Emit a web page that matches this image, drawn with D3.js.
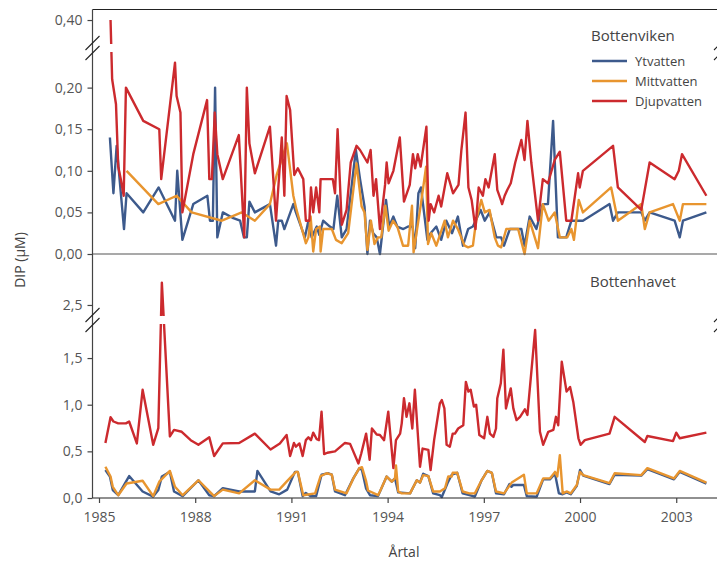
<!DOCTYPE html>
<html>
<head>
<meta charset="utf-8">
<script src="https://cdnjs.cloudflare.com/ajax/libs/d3/7.8.5/d3.min.js"></script>
<style>
  html, body { margin: 0; padding: 0; background: #fff; }
  svg { display: block; font-family: "Open Sans", "DejaVu Sans", sans-serif; }
</style>
</head>
<body>
<svg id="chart" width="717" height="562"></svg>
<script>
// Bottenviken (upper panel) - [year, DIP µM]
const bvYt = [[1985.34,0.14],[1985.45,0.073],[1985.55,0.13],[1985.78,0.03],[1985.86,0.073],[1986.38,0.05],[1986.86,0.08],[1987.37,0.04],[1987.44,0.10],[1987.60,0.017],[1987.94,0.06],[1988.38,0.07],[1988.46,0.04],[1988.55,0.04],[1988.62,0.20],[1988.69,0.02],[1988.86,0.05],[1989.19,0.043],[1989.40,0.04],[1989.52,0.02],[1989.61,0.02],[1989.69,0.063],[1989.86,0.05],[1990.33,0.06],[1990.52,0.01],[1990.59,0.04],[1990.70,0.04],[1990.78,0.03],[1991.06,0.06],[1991.14,0.05],[1991.42,0.02],[1991.53,0.04],[1991.63,0.02],[1991.79,0.033],[1991.87,0.023],[1991.99,0.04],[1992.20,0.033],[1992.31,0.03],[1992.43,0.07],[1992.57,0.02],[1992.72,0.03],[1993.01,0.125],[1993.14,0.09],[1993.28,0.057],[1993.37,0.0],[1993.45,0.04],[1993.55,0.025],[1993.66,0.02],[1993.76,0.0],[1993.95,0.065],[1994.05,0.033],[1994.18,0.045],[1994.30,0.033],[1994.49,0.03],[1994.64,0.033],[1994.78,0.033],[1994.86,0.007],[1994.96,0.073],[1995.04,0.08],[1995.24,0.017],[1995.34,0.025],[1995.52,0.033],[1995.67,0.017],[1995.83,0.04],[1996.01,0.025],[1996.19,0.045],[1996.35,0.01],[1996.51,0.03],[1996.66,0.033],[1996.90,0.053],[1997.03,0.04],[1997.18,0.05],[1997.39,0.02],[1997.54,0.02],[1997.63,0.01],[1997.81,0.03],[1997.96,0.03],[1998.17,0.03],[1998.27,0.01],[1998.43,0.045],[1998.64,0.03],[1998.84,0.06],[1999.00,0.06],[1999.16,0.16],[1999.31,0.02],[1999.57,0.02],[1999.73,0.04],[1999.94,0.04],[2000.09,0.04],[2000.92,0.06],[2001.03,0.04],[2001.18,0.05],[2001.91,0.05],[2002.02,0.04],[2002.17,0.05],[2002.95,0.04],[2003.11,0.02],[2003.21,0.04],[2003.94,0.05]];
const bvMitt = [[1985.86,0.10],[1986.85,0.06],[1987.42,0.07],[1987.89,0.05],[1988.83,0.04],[1989.45,0.05],[1989.86,0.04],[1990.33,0.06],[1990.54,0.095],[1990.86,0.133],[1991.06,0.07],[1991.16,0.053],[1991.45,0.013],[1991.53,0.02],[1991.60,0.045],[1991.68,0.003],[1991.77,0.03],[1991.89,0.033],[1991.91,0.003],[1991.99,0.03],[1992.26,0.03],[1992.39,0.017],[1992.57,0.013],[1992.77,0.025],[1993.03,0.109],[1993.19,0.057],[1993.28,0.05],[1993.37,0.005],[1993.48,0.04],[1993.59,0.012],[1993.70,0.02],[1993.80,0.02],[1993.93,0.058],[1994.03,0.028],[1994.17,0.04],[1994.31,0.032],[1994.48,0.01],[1994.64,0.01],[1994.76,0.058],[1994.81,0.002],[1995.03,0.058],[1995.20,0.105],[1995.26,0.012],[1995.36,0.025],[1995.52,0.01],[1995.78,0.04],[1995.88,0.02],[1996.04,0.04],[1996.19,0.03],[1996.40,0.01],[1996.51,0.008],[1996.66,0.01],[1996.76,0.04],[1996.92,0.065],[1997.03,0.05],[1997.18,0.053],[1997.34,0.02],[1997.44,0.01],[1997.54,0.008],[1997.70,0.03],[1997.86,0.03],[1998.07,0.03],[1998.27,0.0],[1998.43,0.04],[1998.69,0.007],[1998.84,0.06],[1999.02,0.04],[1999.21,0.05],[1999.37,0.02],[1999.60,0.02],[1999.73,0.03],[1999.81,0.017],[1999.96,0.065],[2000.09,0.05],[2000.97,0.08],[2001.18,0.04],[2001.91,0.06],[2002.02,0.03],[2002.17,0.05],[2002.90,0.06],[2003.11,0.04],[2003.21,0.06],[2003.94,0.06]];
const bvDjup = [[1985.36,0.40],[1985.41,0.21],[1985.53,0.18],[1985.60,0.105],[1985.68,0.09],[1985.77,0.07],[1985.84,0.20],[1986.38,0.16],[1986.88,0.15],[1986.94,0.09],[1987.37,0.23],[1987.42,0.19],[1987.54,0.17],[1987.60,0.05],[1987.94,0.12],[1988.37,0.185],[1988.44,0.09],[1988.52,0.09],[1988.61,0.17],[1988.69,0.12],[1988.86,0.09],[1989.36,0.143],[1989.53,0.02],[1989.61,0.20],[1989.69,0.133],[1989.86,0.097],[1990.33,0.153],[1990.52,0.04],[1990.70,0.14],[1990.78,0.07],[1990.85,0.19],[1990.96,0.173],[1991.09,0.095],[1991.20,0.103],[1991.37,0.09],[1991.45,0.04],[1991.56,0.04],[1991.61,0.08],[1991.68,0.05],[1991.77,0.08],[1991.87,0.05],[1991.91,0.09],[1992.29,0.09],[1992.36,0.073],[1992.44,0.15],[1992.57,0.035],[1992.72,0.053],[1992.85,0.11],[1993.03,0.13],[1993.14,0.125],[1993.37,0.11],[1993.47,0.125],[1993.56,0.07],[1993.64,0.09],[1993.76,0.03],[1993.92,0.083],[1993.97,0.11],[1994.03,0.085],[1994.18,0.10],[1994.38,0.14],[1994.51,0.063],[1994.69,0.083],[1994.79,0.12],[1994.86,0.103],[1994.94,0.12],[1995.03,0.105],[1995.21,0.153],[1995.28,0.04],[1995.34,0.06],[1995.45,0.05],[1995.59,0.07],[1995.67,0.057],[1995.86,0.097],[1996.04,0.073],[1996.21,0.083],[1996.30,0.125],[1996.43,0.17],[1996.52,0.08],[1996.62,0.065],[1996.74,0.03],[1996.84,0.08],[1996.97,0.07],[1997.05,0.09],[1997.15,0.08],[1997.34,0.12],[1997.42,0.077],[1997.53,0.065],[1997.57,0.06],[1997.65,0.07],[1997.73,0.077],[1997.84,0.085],[1997.98,0.11],[1998.17,0.137],[1998.27,0.113],[1998.36,0.16],[1998.48,0.11],[1998.69,0.04],[1998.84,0.09],[1999.00,0.085],[1999.21,0.113],[1999.37,0.123],[1999.57,0.04],[1999.73,0.04],[1999.94,0.097],[1999.99,0.08],[2000.09,0.10],[2001.03,0.13],[2001.18,0.08],[2001.91,0.053],[2002.17,0.11],[2002.95,0.09],[2003.08,0.10],[2003.18,0.12],[2003.94,0.07]];

// Bottenhavet (lower panel)
const bhYt = [[1985.20,0.30],[1985.34,0.23],[1985.43,0.085],[1985.60,0.03],[1985.94,0.235],[1986.36,0.07],[1986.69,0.015],[1986.85,0.085],[1986.96,0.23],[1987.21,0.28],[1987.34,0.07],[1987.61,0.02],[1988.10,0.19],[1988.44,0.03],[1988.59,0.02],[1988.86,0.105],[1989.37,0.07],[1989.86,0.07],[1989.94,0.29],[1990.35,0.07],[1990.62,0.04],[1990.87,0.09],[1991.11,0.28],[1991.20,0.28],[1991.35,0.02],[1991.45,0.055],[1991.60,0.02],[1991.77,0.02],[1991.94,0.25],[1992.15,0.265],[1992.26,0.25],[1992.36,0.07],[1992.67,0.03],[1992.93,0.21],[1993.12,0.32],[1993.20,0.30],[1993.33,0.10],[1993.45,0.03],[1993.70,0.02],[1993.97,0.23],[1994.13,0.175],[1994.23,0.21],[1994.33,0.06],[1994.70,0.05],[1994.91,0.19],[1995.01,0.165],[1995.11,0.26],[1995.27,0.235],[1995.42,0.05],[1995.63,0.03],[1995.69,0.01],[1995.87,0.16],[1996.00,0.25],[1996.17,0.27],[1996.34,0.05],[1996.55,0.03],[1996.72,0.015],[1996.93,0.19],[1997.11,0.29],[1997.25,0.27],[1997.38,0.05],[1997.63,0.04],[1997.80,0.15],[1997.86,0.12],[1997.92,0.14],[1998.25,0.14],[1998.34,0.02],[1998.65,0.015],[1998.85,0.20],[1999.06,0.20],[1999.22,0.26],[1999.34,0.05],[1999.46,0.04],[1999.58,0.06],[1999.71,0.04],[1999.90,0.13],[2000.00,0.30],[2000.10,0.24],[2000.92,0.15],[2001.08,0.25],[2001.91,0.24],[2002.10,0.31],[2002.93,0.20],[2003.11,0.28],[2003.94,0.155]];
const bhMitt = [[1985.20,0.335],[1985.36,0.23],[1985.43,0.12],[1985.60,0.03],[1985.86,0.155],[1986.36,0.185],[1986.69,0.02],[1986.88,0.175],[1987.21,0.29],[1987.37,0.12],[1987.61,0.03],[1988.10,0.19],[1988.59,0.02],[1988.86,0.09],[1989.37,0.05],[1989.86,0.19],[1990.35,0.09],[1990.62,0.09],[1990.85,0.175],[1991.14,0.28],[1991.20,0.28],[1991.37,0.03],[1991.74,0.05],[1991.79,0.105],[1991.91,0.235],[1992.10,0.265],[1992.26,0.25],[1992.36,0.09],[1992.72,0.05],[1992.93,0.21],[1993.12,0.32],[1993.20,0.33],[1993.33,0.18],[1993.39,0.08],[1993.70,0.03],[1993.76,0.07],[1993.97,0.23],[1994.13,0.175],[1994.23,0.21],[1994.26,0.35],[1994.33,0.07],[1994.44,0.05],[1994.70,0.05],[1994.91,0.19],[1995.01,0.165],[1995.11,0.245],[1995.27,0.235],[1995.42,0.07],[1995.63,0.07],[1995.79,0.105],[1995.89,0.23],[1996.00,0.23],[1996.03,0.27],[1996.17,0.27],[1996.34,0.07],[1996.55,0.05],[1996.72,0.05],[1996.93,0.19],[1997.11,0.29],[1997.25,0.27],[1997.38,0.07],[1997.63,0.05],[1997.87,0.165],[1998.25,0.25],[1998.34,0.05],[1998.65,0.05],[1998.85,0.21],[1999.06,0.21],[1999.22,0.28],[1999.29,0.23],[1999.37,0.46],[1999.46,0.05],[1999.58,0.07],[1999.71,0.05],[1999.90,0.14],[2000.00,0.28],[2000.10,0.245],[2000.92,0.16],[2001.08,0.265],[2001.91,0.245],[2002.10,0.32],[2002.93,0.21],[2003.11,0.29],[2003.94,0.165]];
const bhDjup = [[1985.20,0.59],[1985.36,0.865],[1985.45,0.82],[1985.60,0.80],[1985.84,0.80],[1985.94,0.82],[1986.18,0.585],[1986.36,1.16],[1986.69,0.57],[1986.85,0.75],[1986.96,2.74],[1987.21,0.66],[1987.34,0.73],[1987.58,0.71],[1987.86,0.62],[1988.10,0.57],[1988.44,0.65],[1988.59,0.45],[1988.86,0.585],[1989.37,0.59],[1989.86,0.69],[1990.35,0.52],[1990.64,0.585],[1990.85,0.675],[1990.96,0.45],[1991.08,0.59],[1991.14,0.55],[1991.25,0.585],[1991.35,0.45],[1991.45,0.62],[1991.53,0.65],[1991.61,0.62],[1991.68,0.70],[1991.79,0.63],[1991.86,0.62],[1991.94,0.925],[1992.02,0.47],[1992.12,0.485],[1992.36,0.50],[1992.67,0.59],[1992.83,0.58],[1993.09,0.37],[1993.18,0.48],[1993.33,0.69],[1993.44,0.41],[1993.51,0.745],[1993.66,0.68],[1993.76,0.675],[1993.89,0.62],[1994.02,0.925],[1994.18,0.32],[1994.26,0.62],[1994.39,0.69],[1994.44,0.80],[1994.51,1.07],[1994.59,0.87],[1994.68,1.015],[1994.77,0.745],[1994.85,1.16],[1995.01,0.335],[1995.09,0.53],[1995.27,0.515],[1995.34,0.30],[1995.45,0.62],[1995.63,1.015],[1995.69,1.05],[1995.77,0.96],[1995.84,0.57],[1995.94,0.55],[1996.03,0.69],[1996.10,0.69],[1996.20,0.745],[1996.36,0.78],[1996.44,1.245],[1996.52,1.14],[1996.59,1.16],[1996.69,0.98],[1996.76,1.00],[1996.86,0.675],[1997.01,0.64],[1997.11,0.87],[1997.19,0.69],[1997.30,0.655],[1997.38,0.745],[1997.42,1.07],[1997.53,1.23],[1997.61,1.59],[1997.69,0.96],[1997.84,1.175],[1997.92,0.96],[1998.02,0.835],[1998.13,0.87],[1998.28,0.95],[1998.36,0.89],[1998.60,1.80],[1998.75,0.71],[1998.85,0.57],[1999.01,0.71],[1999.17,0.73],[1999.25,0.87],[1999.32,0.78],[1999.43,1.46],[1999.58,1.14],[1999.69,1.19],[1999.79,1.03],[1999.95,0.64],[2000.02,0.57],[2000.15,0.62],[2000.92,0.69],[2001.08,0.87],[2002.02,0.60],[2002.10,0.665],[2002.90,0.61],[2003.00,0.70],[2003.11,0.64],[2003.94,0.70]];

const xTicks = [1985, 1988, 1991, 1994, 1997, 2000, 2003];
const topTicks = [0, 0.05, 0.10, 0.15, 0.20, 0.40];
const bottomTicks = [0, 0.5, 1.0, 1.5, 2.5];
const seriesNames = ['Ytvatten', 'Mittvatten', 'Djupvatten'];
const seriesColors = ['#3d5a8c', '#e8952f', '#cc2a2e'];

(function(){
  const svg = d3.select('#chart');
  const W = 717, left = 92.5;

  const x = d3.scaleLinear().domain([1985, 2004]).range([99, 708.3]);

  // broken y-scales (piecewise: lower part, compressed break, upper part)
  const yTop = d3.scaleLinear().domain([0, 0.235, 0.385, 0.42]).range([254, 58.5, 32.5, 3.4]);
  const yBot = d3.scaleLinear().domain([0, 1.85, 2.4, 2.8]).range([498, 325.4, 314.3, 277]);
  const topGap = 48, botGap = 320;

  const fmt2 = v => d3.format('.2f')(v).replace('.', ',');
  const fmt1 = v => d3.format('.1f')(v).replace('.', ',');

  const lineTop = d3.line().x(d => x(d[0])).y(d => yTop(d[1]));
  const lineBot = d3.line().x(d => x(d[0])).y(d => yBot(d[1]));

  const plot = svg.append('g');
  [bvYt, bvMitt, bvDjup].forEach((s, i) => {
    plot.append('path').datum(s).attr('d', lineTop)
      .attr('fill', 'none').attr('stroke', seriesColors[i]).attr('stroke-width', 2.4)
      .attr('stroke-linejoin', 'round');
  });
  [bhYt, bhMitt, bhDjup].forEach((s, i) => {
    plot.append('path').datum(s).attr('d', lineBot)
      .attr('fill', 'none').attr('stroke', seriesColors[i]).attr('stroke-width', 2.4)
      .attr('stroke-linejoin', 'round');
  });

  // white gaps where the axes are broken
  [topGap, botGap].forEach(g => {
    svg.append('rect').attr('x', left + 1).attr('y', g - 4).attr('width', W).attr('height', 8).attr('fill', '#fff');
  });

  // frame lines
  svg.append('line').attr('x1', left).attr('x2', W).attr('y1', 9.5).attr('y2', 9.5).attr('stroke', '#222').attr('stroke-width', 1.2);
  svg.append('line').attr('x1', left).attr('x2', W).attr('y1', yTop(0)).attr('y2', yTop(0)).attr('stroke', '#555').attr('stroke-width', 1.2);

  // y axes
  const axTop = svg.append('g').attr('transform', `translate(${left},0)`)
    .call(d3.axisLeft(yTop).tickValues(topTicks).tickFormat(fmt2).tickSize(5).tickPadding(5).tickSizeOuter(0));
  const axBot = svg.append('g').attr('transform', `translate(${left},0)`)
    .call(d3.axisLeft(yBot).tickValues(bottomTicks).tickFormat(fmt1).tickSize(5).tickPadding(5).tickSizeOuter(0));
  [axTop, axBot].forEach(a => a.select('.domain').remove());
  svg.append('line').attr('x1', left).attr('x2', left).attr('y1', 9.5).attr('y2', yBot(0)).attr('stroke', '#444').attr('stroke-width', 1.2);

  // x axis
  const axX = svg.append('g').attr('transform', `translate(0,${yBot(0)})`)
    .call(d3.axisBottom(x).tickValues(xTicks).tickFormat(d3.format('d')).tickSize(5).tickPadding(9).tickSizeOuter(0));
  axX.select('.domain').attr('d', `M${left},0H${W}`).attr('stroke', '#222').attr('stroke-width', 1.2);

  svg.selectAll('.tick line').attr('stroke', '#444').attr('stroke-width', 1.2);
  svg.selectAll('.tick text').attr('fill', '#555').style('font-size', '14px').style('font-family', '"Open Sans", sans-serif');

  // break marks on left and right side
  [topGap, botGap].forEach(g => {
    [left, W + 4].forEach(px => {
      [-5, 5].forEach(o => {
        svg.append('line').attr('x1', px - 7).attr('y1', g + o + 7).attr('x2', px + 7).attr('y2', g + o - 7)
          .attr('stroke', '#222').attr('stroke-width', 1.1);
      });
    });
  });

  // titles
  svg.append('text').attr('transform', 'translate(25,260) rotate(-90)').attr('text-anchor', 'middle')
    .style('font-size', '14px').attr('fill', '#444').text('DIP (µM)');
  svg.append('text').attr('x', 404).attr('y', 557).attr('text-anchor', 'middle')
    .style('font-size', '14px').attr('fill', '#444').text('Årtal');

  // legend / panel labels
  svg.append('text').attr('x', 591).attr('y', 41).style('font-size', '15px').attr('fill', '#444').text('Bottenviken');
  svg.append('text').attr('x', 590).attr('y', 287).style('font-size', '15px').attr('fill', '#444').text('Bottenhavet');
  const lg = svg.append('g');
  seriesNames.forEach((n, i) => {
    const yy = 61 + i * 20;
    lg.append('line').attr('x1', 592).attr('x2', 627).attr('y1', yy).attr('y2', yy)
      .attr('stroke', seriesColors[i]).attr('stroke-width', 2.4);
    lg.append('text').attr('x', 635).attr('y', yy + 5).style('font-size', '13px').attr('fill', '#444').text(n);
  });
})();
</script>
</body>
</html>
